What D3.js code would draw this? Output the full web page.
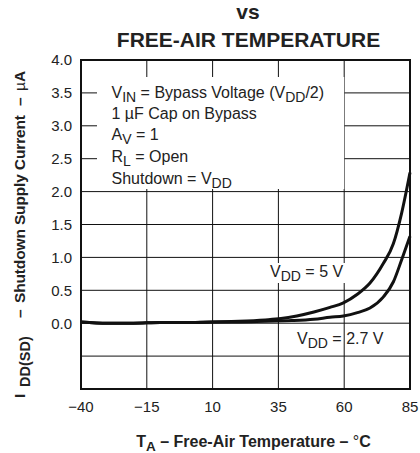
<!DOCTYPE html>
<html><head><meta charset="utf-8">
<script src="https://cdn.jsdelivr.net/npm/d3@7"></script>
<style>body{margin:0;background:#fff}svg{display:block}text{font-family:"Liberation Sans",Arial,sans-serif;fill:#222}</style>
</head><body><script>
const xTicks = [-40, -15, 10, 35, 60, 85];
const yTickLabels = [0.0, 0.5, 1.0, 1.5, 2.0, 2.5, 3.0, 3.5, 4.0];
const yGrid = [-0.5, 0.0, 0.5, 1.0, 1.5, 2.0, 2.5, 3.0, 3.5];
const temps5 = [-40, -30, -20, -10, 0, 10, 20, 30, 36, 42, 48.5, 54.6, 59.7, 65, 69.8, 74.9, 78.7, 81.8, 85];
const vals5 = [0.02, 0.0, 0.0, 0.01, 0.01, 0.02, 0.03, 0.05, 0.07, 0.11, 0.17, 0.24, 0.31, 0.44, 0.61, 0.91, 1.21, 1.67, 2.29];
const temps27 = [-40, -30, -20, -10, 0, 10, 20, 30, 40, 48.5, 54.6, 59.7, 65, 69.8, 74.9, 78.7, 81.8, 85];
const vals27 = [0.02, 0.0, 0.0, 0.01, 0.01, 0.02, 0.02, 0.03, 0.04, 0.06, 0.09, 0.11, 0.16, 0.23, 0.40, 0.63, 0.96, 1.32];

const W = 420, H = 453;
const svg = d3.select("body").append("svg").attr("width", W).attr("height", H);
const x = d3.scaleLinear().domain([-40, 85]).range([81, 410]);
const y = d3.scaleLinear().domain([-1, 4]).range([389, 60]);

// grid
svg.append("g").selectAll("line").data(xTicks.slice(1, -1)).join("line")
  .attr("x1", d => x(d)).attr("x2", d => x(d)).attr("y1", y(4)).attr("y2", y(-1))
  .attr("stroke", "#111").attr("stroke-width", 1);
svg.append("g").selectAll("line").data(yGrid).join("line")
  .attr("x1", x(-40)).attr("x2", x(85)).attr("y1", d => y(d)).attr("y2", d => y(d))
  .attr("stroke", "#111").attr("stroke-width", 1);

// annotation background
svg.append("rect").attr("x", 97).attr("y", 77).attr("width", x(60) - 97).attr("height", 112).attr("fill", "#fff");
svg.append("rect").attr("x", 268).attr("y", 263).attr("width", 80).attr("height", 20).attr("fill", "#fff");

// curves
const line = d3.line().x(d => x(d[0])).y(d => y(d[1])).curve(d3.curveMonotoneX);
svg.append("path").datum(temps5.map((t, i) => [t, vals5[i]])).attr("d", line)
  .attr("fill", "none").attr("stroke", "#111").attr("stroke-width", 3);
svg.append("path").datum(temps27.map((t, i) => [t, vals27[i]])).attr("d", line)
  .attr("fill", "none").attr("stroke", "#111").attr("stroke-width", 3);

// frame
svg.append("rect").attr("x", x(-40)).attr("y", y(4)).attr("width", x(85) - x(-40)).attr("height", y(-1) - y(4))
  .attr("fill", "none").attr("stroke", "#111").attr("stroke-width", 2);

// axes labels
svg.append("g").selectAll("text").data(yTickLabels).join("text")
  .attr("x", 72).attr("y", d => y(d)).attr("dy", "0.36em").attr("text-anchor", "end")
  .attr("font-size", 15).text(d => d.toFixed(1));
svg.append("g").selectAll("text").data(xTicks).join("text")
  .attr("x", d => x(d)).attr("y", 411.5).attr("text-anchor", "middle")
  .attr("font-size", 15).text(d => d < 0 ? "\u2212" + Math.abs(d) : d);

// title
svg.append("text").attr("x", 248).attr("y", 18.5).attr("text-anchor", "middle")
  .attr("font-size", 21).attr("font-weight", "bold").text("vs");
svg.append("text").attr("x", 248.5).attr("y", 46.5).attr("text-anchor", "middle")
  .attr("font-size", 21).attr("font-weight", "bold").text("FREE-AIR TEMPERATURE");

// x title
const xt = svg.append("text").attr("x", 253.5).attr("y", 447).attr("text-anchor", "middle")
  .attr("font-size", 16).attr("font-weight", "bold");
xt.append("tspan").text("T");
xt.append("tspan").attr("dy", 4).attr("font-size", 13.5).text("A");
xt.append("tspan").attr("dy", -4).text(" \u2013 Free-Air Temperature \u2013 ");
xt.append("tspan").attr("font-weight", "normal").text("\u00B0");
xt.append("tspan").text("C");

// y title (rotated; text x = -screen y)
const yt = svg.append("text").attr("transform", "translate(25,0) rotate(-90)")
  .attr("font-size", 15.5).attr("font-weight", "bold");
yt.append("tspan").attr("x", -398).attr("y", 0).text("I");
yt.append("tspan").attr("x", -387).attr("y", 4.5).attr("font-size", 14.5).text("DD(SD)");
yt.append("tspan").attr("x", -318).attr("y", 0).text("\u2013");
yt.append("tspan").attr("x", -303).attr("y", 0).attr("textLength", 188).text("Shutdown Supply Current");
yt.append("tspan").attr("x", -106).attr("y", 0).text("\u2013");
yt.append("tspan").attr("x", -91).attr("y", 0).attr("font-weight", "normal").text("\u00B5");
yt.append("tspan").attr("x", -82).attr("y", 0).text("A");

// annotation
function sub(el, parts, fs) {
  parts.forEach(p => {
    const t = el.append("tspan").text(p[0]);
    if (p[1] === 1) t.attr("dy", 4).attr("font-size", fs - 2);
    else if (p[1] === -1) t.attr("dy", -4);
  });
}
const ax = 111.5, fs = 16;
const lines = [
  [98, [["V"], ["IN", 1], [" = Bypass Voltage (V", -1], ["DD", 1], ["/2)", -1]]],
  [118.5, [["1 \u00B5F Cap on Bypass"]]],
  [140, [["A"], ["V", 1], [" = 1", -1]]],
  [162, [["R"], ["L", 1], [" = Open", -1]]],
  [183.5, [["Shutdown = V"], ["DD", 1]]]
];
lines.forEach(l => {
  const t = svg.append("text").attr("x", ax).attr("y", l[0]).attr("font-size", fs);
  sub(t, l[1], fs);
});
const l5 = svg.append("text").attr("x", 270).attr("y", 277).attr("font-size", fs);
sub(l5, [["V"], ["DD", 1], [" = 5 V", -1]], fs);
const l27 = svg.append("text").attr("x", 297).attr("y", 343.5).attr("font-size", fs);
sub(l27, [["V"], ["DD", 1], [" = 2.7 V", -1]], fs);
</script></body></html>
